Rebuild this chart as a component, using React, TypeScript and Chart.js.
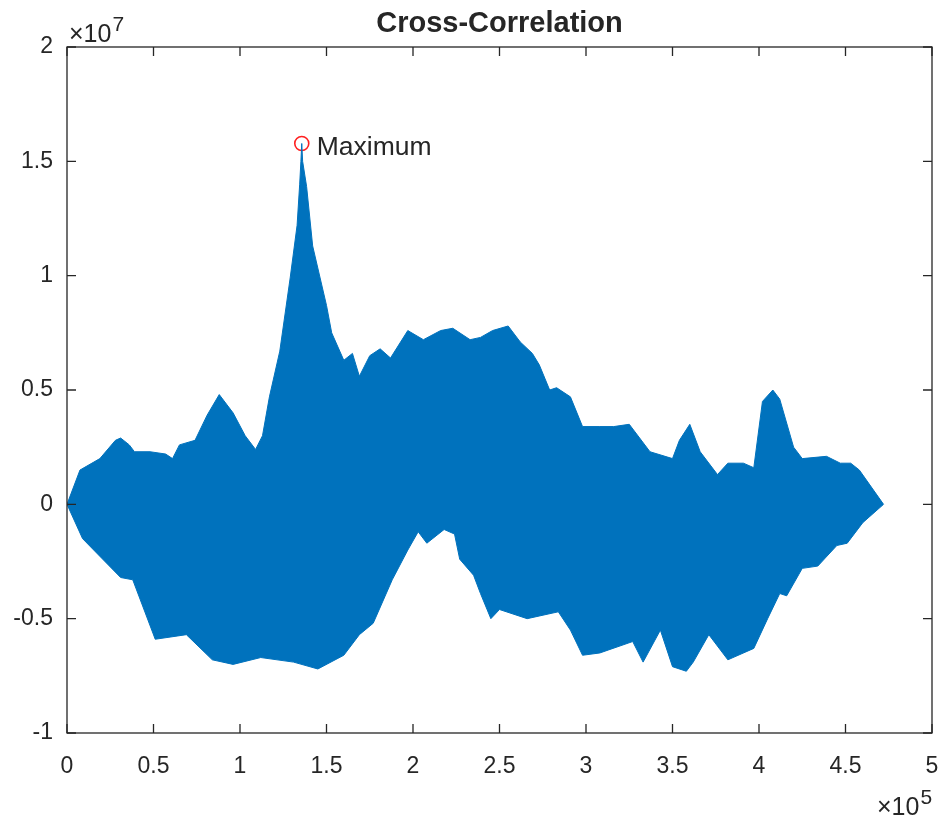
import React, { useEffect, useRef } from "react";
import { Chart, registerables } from "chart.js";

Chart.register(...registerables);

// Axis multipliers (values below are in units of 10^5 for x and 10^7 for y)
const xExponent = "5";
const yExponent = "7";

// Upper envelope of the cross-correlation signal
const upperX = [
  0, 0.075, 0.19, 0.28, 0.31, 0.36, 0.39, 0.48, 0.57, 0.61, 0.65, 0.74, 0.81, 0.88, 0.96,
  1.03, 1.09, 1.13, 1.17, 1.23, 1.29, 1.33, 1.345, 1.352, 1.357, 1.362, 1.385, 1.42, 1.5,
  1.53, 1.6, 1.65, 1.69, 1.75, 1.81, 1.87, 1.97, 2.06, 2.16, 2.23, 2.33, 2.39, 2.46, 2.55,
  2.62, 2.69, 2.73, 2.79, 2.83, 2.91, 2.98, 3.08, 3.16, 3.25, 3.37, 3.5, 3.54, 3.6, 3.66,
  3.76, 3.82, 3.91, 3.97, 4.02, 4.08, 4.12, 4.2, 4.25, 4.39, 4.47, 4.53, 4.58, 4.72,
];
const upperY = [
  0, 0.15, 0.2, 0.28, 0.29, 0.26, 0.23, 0.23, 0.22, 0.2, 0.26, 0.28, 0.39, 0.48, 0.4,
  0.3, 0.24, 0.3, 0.47, 0.67, 0.99, 1.22, 1.4, 1.5, 1.578, 1.5, 1.39, 1.13, 0.87,
  0.75, 0.63, 0.66, 0.56, 0.65, 0.68, 0.64, 0.76, 0.72, 0.76, 0.77, 0.72, 0.73, 0.76, 0.78,
  0.71, 0.66, 0.61, 0.5, 0.51, 0.47, 0.34, 0.34, 0.34, 0.35, 0.23, 0.2, 0.28, 0.35, 0.23,
  0.13, 0.18, 0.18, 0.16, 0.45, 0.5, 0.46, 0.25, 0.2, 0.21, 0.18, 0.18, 0.15, 0,
];

// Lower envelope of the cross-correlation signal
const lowerX = [
  0, 0.09, 0.31, 0.38, 0.51, 0.69, 0.84, 0.96, 1.12, 1.31, 1.45, 1.6, 1.69, 1.77, 1.88,
  1.97, 2.03, 2.08, 2.18, 2.24, 2.27, 2.35, 2.39, 2.45, 2.5, 2.66, 2.84, 2.91, 2.98, 3.08,
  3.27, 3.33, 3.43, 3.5, 3.58, 3.62, 3.71, 3.82, 3.97, 4.05, 4.12, 4.16, 4.25, 4.34, 4.45,
  4.51, 4.6, 4.72,
];
const lowerY = [
  0, -0.15, -0.32, -0.33, -0.59, -0.57, -0.68, -0.7, -0.67, -0.69, -0.72, -0.66, -0.57, -0.52, -0.33,
  -0.2, -0.12, -0.17, -0.11, -0.13, -0.24, -0.31, -0.39, -0.5, -0.46, -0.5, -0.47, -0.55, -0.66, -0.65,
  -0.6, -0.69, -0.55, -0.71, -0.73, -0.69, -0.57, -0.68, -0.63, -0.5, -0.39, -0.4, -0.28, -0.27, -0.18,
  -0.17, -0.08, 0,
];

// Maximum marker
const maxX = [1.357];
const maxY = [1.578];
const maxLabel = "Maximum";

const xTicks = [0, 0.5, 1, 1.5, 2, 2.5, 3, 3.5, 4, 4.5, 5];
const yTicks = [-1, -0.5, 0, 0.5, 1, 1.5, 2];
const titleText = "Cross-Correlation";

const FONT = '"Liberation Sans", Arial, Helvetica, sans-serif';
const INK = "#262626";
const BLUE = "#0072BD";

const decorPlugin = {
  id: "decor",
  afterDatasetsDraw(chart: any) {
    const { ctx, chartArea: a, scales } = chart;
    const xs = scales.x;
    const ys = scales.y;
    ctx.save();
    ctx.strokeStyle = INK;
    ctx.lineWidth = 1.3;
    ctx.strokeRect(a.left, a.top, a.right - a.left, a.bottom - a.top);
    const L = 9;
    ctx.beginPath();
    xTicks.forEach((v) => {
      const px = xs.getPixelForValue(v);
      ctx.moveTo(px, a.bottom);
      ctx.lineTo(px, a.bottom - L);
      ctx.moveTo(px, a.top);
      ctx.lineTo(px, a.top + L);
    });
    yTicks.forEach((v) => {
      const py = ys.getPixelForValue(v);
      ctx.moveTo(a.left, py);
      ctx.lineTo(a.left + L, py);
      ctx.moveTo(a.right, py);
      ctx.lineTo(a.right - L, py);
    });
    ctx.stroke();

    ctx.fillStyle = INK;
    // Maximum label
    const mx = xs.getPixelForValue(maxX[0]);
    const my = ys.getPixelForValue(maxY[0]);
    ctx.font = `26.5px ${FONT}`;
    ctx.textAlign = "left";
    ctx.textBaseline = "alphabetic";
    ctx.fillText(maxLabel, mx + 15, my + 12);

    // Title
    ctx.font = `bold 29px ${FONT}`;
    ctx.textAlign = "center";
    ctx.fillText(titleText, (a.left + a.right) / 2, a.top - 15);

    // Multipliers
    const drawMult = (x0: number, base: number, exp: string) => {
      ctx.textAlign = "left";
      ctx.font = `25px ${FONT}`;
      const t = "\u00d710";
      ctx.fillText(t, x0, base);
      const w = ctx.measureText(t).width;
      ctx.font = `21px ${FONT}`;
      ctx.fillText(exp, x0 + w + 1, base - 11);
    };
    drawMult(a.left + 2, a.top - 5, yExponent);
    drawMult(877, 815, xExponent);
    ctx.restore();
  },
};

export default function App() {
  const ref = useRef<HTMLCanvasElement | null>(null);
  useEffect(() => {
    if (!ref.current) return;
    const upper = upperX.map((x, i) => ({ x, y: upperY[i] }));
    const lower = lowerX.map((x, i) => ({ x, y: lowerY[i] }));
    const maxPts = maxX.map((x, i) => ({ x, y: maxY[i] }));
    const chart = new Chart(ref.current, {
      type: "scatter",
      data: {
        datasets: [
          {
            data: upper,
            showLine: true,
            fill: "+1",
            backgroundColor: BLUE,
            borderColor: BLUE,
            borderWidth: 1,
            pointRadius: 0,
            tension: 0,
          },
          {
            data: lower,
            showLine: true,
            fill: false,
            backgroundColor: BLUE,
            borderColor: BLUE,
            borderWidth: 1,
            pointRadius: 0,
            tension: 0,
          },
          {
            data: maxPts,
            showLine: false,
            pointRadius: 7,
            pointStyle: "circle",
            borderColor: "#FF2020",
            backgroundColor: "rgba(0,0,0,0)",
            borderWidth: 1.6,
          },
        ],
      },
      options: {
        responsive: false,
        animation: false,
        events: [],
        layout: { padding: { left: 0, top: 47, right: 13, bottom: 0 } },
        plugins: { legend: { display: false }, tooltip: { enabled: false }, title: { display: false } },
        scales: {
          x: {
            type: "linear",
            min: 0,
            max: 5,
            afterBuildTicks: (s: any) => {
              s.ticks = xTicks.map((v) => ({ value: v }));
            },
            afterFit: (s: any) => {
              s.height = 85;
              s.paddingLeft = 0;
              s.paddingRight = 0;
            },
            grid: { display: false, drawTicks: false },
            border: { display: false },
            ticks: {
              color: INK,
              font: { family: FONT, size: 23 },
              padding: 20,
              maxRotation: 0,
              autoSkip: false,
              callback: (v: any) => String(v),
            },
          },
          y: {
            type: "linear",
            min: -1,
            max: 2,
            afterBuildTicks: (s: any) => {
              s.ticks = yTicks.map((v) => ({ value: v }));
            },
            afterFit: (s: any) => {
              s.width = 67;
              s.paddingTop = 0;
              s.paddingBottom = 0;
            },
            grid: { display: false, drawTicks: false },
            border: { display: false },
            ticks: {
              color: INK,
              font: { family: FONT, size: 23 },
              padding: 14,
              autoSkip: false,
              callback: (v: any) => String(v),
            },
          },
        },
      },
      plugins: [decorPlugin],
    });
    return () => chart.destroy();
  }, []);
  return (
    <canvas
      ref={ref}
      width={945}
      height={818}
      style={{ position: "absolute", left: 0, top: 0, width: 945, height: 818, display: "block", background: "#fff" }}
    />
  );
}
